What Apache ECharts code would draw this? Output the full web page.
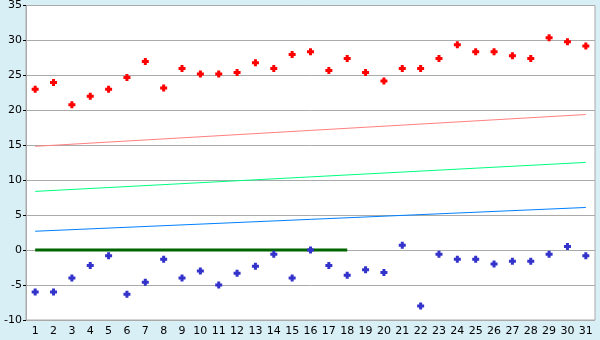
<!DOCTYPE html>
<html><head><meta charset="utf-8">
<script src="https://cdn.jsdelivr.net/npm/echarts@6/dist/echarts.min.js"></script>
<style>html,body{margin:0;padding:0;background:#d9eff6;}#c{width:600px;height:340px;}</style>
</head><body><div id="c"></div>
<script>
var categories = ['1','2','3','4','5','6','7','8','9','10','11','12','13','14','15','16','17','18','19','20','21','22','23','24','25','26','27','28','29','30','31'];
var highValues = [23,24,20.8,22,23,24.7,27,23.2,26,25.2,25.2,25.4,26.8,26,28,28.4,25.7,27.4,25.4,24.2,26,26,27.4,29.4,28.4,28.4,27.8,27.4,30.4,29.8,29.2];
var lowValues = [-6,-6,-4,-2.2,-0.8,-6.3,-4.6,-1.3,-4,-3,-5,-3.3,-2.3,-0.6,-4,0,-2.2,-3.6,-2.8,-3.2,0.7,-8,-0.6,-1.3,-1.3,-2,-1.6,-1.6,-0.6,0.5,-0.8];
var redTrendEnds = [14.85, 19.4];
var greenTrendEnds = [8.4, 12.55];
var blueTrendEnds = [2.7, 6.1];
var zeroLineRange = [1, 18];
var yTicks = {min: -10, max: 35, interval: 5};

function ends(v){ return [[0, v[0]], [categories.length-1, v[1]]]; }
var plus = 'path://M2,0H5V2H7V5H5V7H2V5H0V2H2Z';
var chart = echarts.init(document.getElementById('c'));
chart.setOption({
  animation:false,
  backgroundColor:'#d9eff6',
  grid:{left:26,right:5,top:5,bottom:20,show:true,backgroundColor:'#fff',borderColor:'#aaa',borderWidth:1},
  xAxis:{type:'category',data:categories,boundaryGap:true,
    axisLine:{lineStyle:{color:'#aaa'}},
    axisTick:{alignWithLabel:true,length:4,lineStyle:{color:'#000'}},
    axisLabel:{color:'#000',fontFamily:'DejaVu Sans',fontSize:11,margin:6,interval:0},
    splitLine:{show:false}},
  yAxis:{type:'value',min:yTicks.min,max:yTicks.max,interval:yTicks.interval,
    axisLine:{show:true,lineStyle:{color:'#aaa'}},
    axisTick:{show:true,length:3,lineStyle:{color:'#000'}},
    axisLabel:{color:'#000',fontFamily:'DejaVu Sans',fontSize:11,margin:4},
    splitLine:{lineStyle:{color:'#aaa',width:1}}},
  series:[
    {type:'line',data:ends(redTrendEnds),symbol:'none',lineStyle:{color:'#ff8080',width:1},z:2},
    {type:'line',data:ends(greenTrendEnds),symbol:'none',lineStyle:{color:'#00ff80',width:1},z:2},
    {type:'line',data:ends(blueTrendEnds),symbol:'none',lineStyle:{color:'#0080ff',width:1},z:2},
    {type:'line',data:[[zeroLineRange[0]-1,0],[zeroLineRange[1]-1,0]],symbol:'none',lineStyle:{color:'#006400',width:3},z:3},
    {type:'scatter',data:highValues,symbol:plus,symbolSize:7,itemStyle:{color:'#ff0000',opacity:1},z:4},
    {type:'scatter',data:lowValues,symbol:plus,symbolSize:7,itemStyle:{color:'#3333cc',opacity:1},z:4}
  ]
});
</script></body></html>
